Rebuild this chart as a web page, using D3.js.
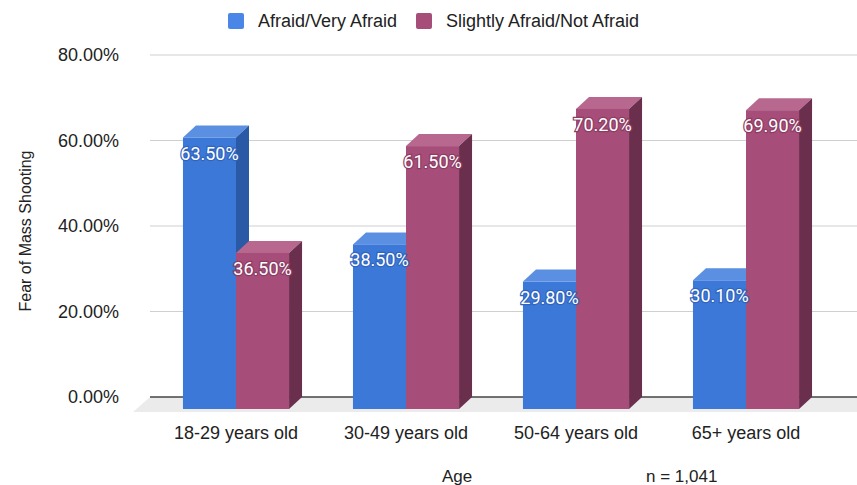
<!DOCTYPE html>
<html>
<head>
<meta charset="utf-8">
<script src="https://cdn.jsdelivr.net/npm/d3@7"></script>
<style>
  body { margin: 0; background: #fff; }
  text { font-family: "Liberation Sans", Arial, sans-serif; fill: #222; }
  .val { font-family: Roboto, "Liberation Sans", sans-serif; font-weight: 400; }
</style>
</head>
<body>
<svg id="chart" width="857" height="485"></svg>
<script>
const categories = ["18-29 years old", "30-49 years old", "50-64 years old", "65+ years old"];
const seriesNames = ["Afraid/Very Afraid", "Slightly Afraid/Not Afraid"];
const afraid = [63.5, 38.5, 29.8, 30.1];
const notAfraid = [36.5, 61.5, 70.2, 69.9];
const yTicks = [0, 20, 40, 60, 80];

const W = 857, H = 485;
const depthX = 13, depthY = 12;

const palette = [
  { front: "#3c78d8", top: "#5b8fe2", side: "#2a5aa6", legend: "#4a86e8", halo: "#3065bd" },
  { front: "#a64d79", top: "#b8688f", side: "#6b2f4e", legend: "#a64d79", halo: "#8c3c63" }
];

const svg = d3.select("#chart");

// back plane scales, front faces are shifted by the depth
const y = d3.scaleLinear().domain([0, 80]).range([397, 55]);
const x = d3.scaleBand().domain(categories).range([164, 844])
  .paddingInner(0.376).paddingOuter(0.188);
const xs = d3.scaleBand().domain([0, 1]).range([0, x.bandwidth()]);

// floor
const base = y(0);
svg.append("path")
  .attr("d", `M150,${base}L${W},${base}L${W},${base + depthY + 3}L${150 - depthX - 4},${base + depthY + 3}Z`)
  .attr("fill", "#ebebeb");

// gridlines
svg.append("g").selectAll("line")
  .data(yTicks)
  .join("line")
  .attr("x1", 150).attr("x2", W)
  .attr("y1", d => y(d)).attr("y2", d => y(d))
  .attr("stroke", d => d === 0 ? "#444" : "#cfcfcf")
  .attr("stroke-width", d => d === 0 ? 1.3 : 1);

// y tick labels
svg.append("g").selectAll("text")
  .data(yTicks)
  .join("text")
  .attr("x", 119)
  .attr("y", d => y(d) + 6)
  .attr("text-anchor", "end")
  .attr("font-size", 18)
  .text(d => d.toFixed(2) + "%");

// bars
const rows = categories.map((c, i) => [
  { cat: c, s: 0, v: afraid[i] },
  { cat: c, s: 1, v: notAfraid[i] }
]);

const bars = svg.append("g");
rows.flat().forEach(d => {
  const col = palette[d.s];
  const x0 = x(d.cat) + xs(d.s) - depthX;
  const x1 = x0 + xs.bandwidth();
  const yT = y(d.v) + depthY;
  const yB = base + depthY;
  const g = bars.append("g");
  g.append("path")
    .attr("d", `M${x0},${yT}L${x0 + depthX},${yT - depthY}L${x1 + depthX},${yT - depthY}L${x1},${yT}Z`)
    .attr("fill", col.top);
  g.append("path")
    .attr("d", `M${x1},${yT}L${x1 + depthX},${yT - depthY}L${x1 + depthX},${yB - depthY}L${x1},${yB}Z`)
    .attr("fill", col.side);
  g.append("rect")
    .attr("x", x0).attr("y", yT)
    .attr("width", x1 - x0).attr("height", yB - yT)
    .attr("fill", col.front);
});

// value labels
svg.append("g").selectAll("text")
  .data(rows.flat())
  .join("text")
  .attr("class", "val")
  .attr("x", d => x(d.cat) + xs(d.s) - depthX + xs.bandwidth() / 2)
  .attr("y", d => y(d.v) + depthY + 22)
  .attr("text-anchor", "middle")
  .attr("font-size", 18)
  .style("fill", "#fff")
  .attr("stroke", d => palette[d.s].halo)
  .attr("stroke-width", 2.4)
  .attr("paint-order", "stroke")
  .text(d => d.v.toFixed(2) + "%");

// category labels
svg.append("g").selectAll("text")
  .data(categories)
  .join("text")
  .attr("x", d => x(d) - depthX + x.bandwidth() / 2)
  .attr("y", 439)
  .attr("text-anchor", "middle")
  .attr("font-size", 18)
  .text(d => d);

// axis titles
svg.append("text")
  .attr("transform", `translate(31,231) rotate(-90)`)
  .attr("text-anchor", "middle")
  .attr("font-size", 16)
  .text("Fear of Mass Shooting");

svg.append("text")
  .attr("x", 457).attr("y", 482)
  .attr("text-anchor", "middle")
  .attr("font-size", 17)
  .text("Age");

svg.append("text")
  .attr("x", 646).attr("y", 482)
  .attr("font-size", 17)
  .text("n = 1,041");

// legend
const legendX = [228, 416];
const legend = svg.append("g").selectAll("g")
  .data(seriesNames)
  .join("g")
  .attr("transform", (d, i) => `translate(${legendX[i]},13)`);
legend.append("rect")
  .attr("width", 16).attr("height", 16).attr("rx", 2)
  .attr("fill", (d, i) => palette[i].legend);
legend.append("text")
  .attr("x", 30).attr("y", 14)
  .attr("font-size", 18)
  .text(d => d);
</script>
</body>
</html>
